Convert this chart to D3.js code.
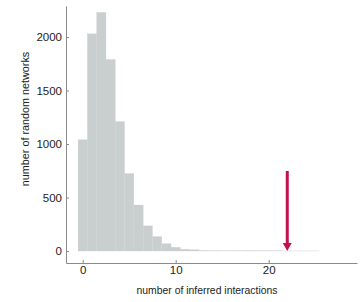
<!DOCTYPE html>
<html>
<head>
<meta charset="utf-8">
<script src="https://cdn.jsdelivr.net/npm/d3@7"></script>
<style>
  body { margin: 0; background: #fff; }
  svg { display: block; font-family: "Liberation Sans", Arial, sans-serif; }
  .axis path, .axis line { stroke: #8a8a8a; }
  .axis text { fill: #222; font-size: 11.5px; }
</style>
</head>
<body>
<svg width="361" height="302"></svg>
<script>
// histogram of inferred interactions in random networks (bin centre = count)
var bins = [0, 1, 2, 3, 4, 5, 6, 7, 8, 9, 10, 11, 12, 13, 14, 15, 16, 17, 18, 19, 20, 21, 22, 23, 24, 25];
var counts = [1040, 2030, 2230, 1790, 1210, 725, 430, 235, 135, 68, 35, 17, 12, 5, 3, 2, 2, 3, 4, 3, 2, 2, 1, 1, 1, 1];
var xTicks = [0, 10, 20];
var yTicks = [0, 500, 1000, 1500, 2000];
var observed = 22;

var svg = d3.select("svg");

var x = d3.scaleLinear().domain([-1.8, 29.5]).range([66, 357]);
var y = d3.scaleLinear().domain([-112, 2290]).range([263, 6]);

// bars
svg.append("g").selectAll("rect")
	.data(bins)
	.enter().append("rect")
	.attr("x", function(d) { return x(d - 0.5); })
	.attr("width", function(d) { return x(d + 0.5) - x(d - 0.5); })
	.attr("y", function(d, i) { return y(counts[i]); })
	.attr("height", function(d, i) { return y(0) - y(counts[i]); })
	.attr("fill", "#c9cece")
	.attr("stroke", "#cfd3d3")
	.attr("stroke-width", 0.3);

// axes, ticks point inward
svg.append("g")
	.attr("class", "axis")
	.attr("transform", "translate(66,0)")
	.call(d3.axisLeft(y).tickValues(yTicks).tickFormat(d3.format("d")).tickSizeInner(-3).tickSizeOuter(0).tickPadding(4));

svg.append("g")
	.attr("class", "axis")
	.attr("transform", "translate(0,263)")
	.call(d3.axisBottom(x).tickValues(xTicks).tickFormat(d3.format("d")).tickSizeInner(-3).tickSizeOuter(0).tickPadding(3));

svg.selectAll(".axis .domain").attr("stroke", "#8a8a8a");

// axis titles
svg.append("text")
	.attr("x", 207)
	.attr("y", 294)
	.attr("text-anchor", "middle")
	.attr("font-size", "10.4px")
	.attr("fill", "#222")
	.text("number of inferred interactions");

svg.append("text")
	.attr("transform", "translate(29,119) rotate(-90)")
	.attr("text-anchor", "middle")
	.attr("font-size", "10.8px")
	.attr("fill", "#222")
	.text("number of random networks");

// observed value arrow
var red = "#c0134a";
svg.append("line")
	.attr("x1", x(observed)).attr("x2", x(observed))
	.attr("y1", 171).attr("y2", y(0) - 6)
	.attr("stroke", red)
	.attr("stroke-width", 3);

svg.append("path")
	.attr("d", "M" + (x(observed) - 4.5) + "," + (y(0) - 8) + "L" + (x(observed) + 4.5) + "," + (y(0) - 8) + "L" + x(observed) + "," + y(0) + "Z")
	.attr("fill", red);
</script>
</body>
</html>
